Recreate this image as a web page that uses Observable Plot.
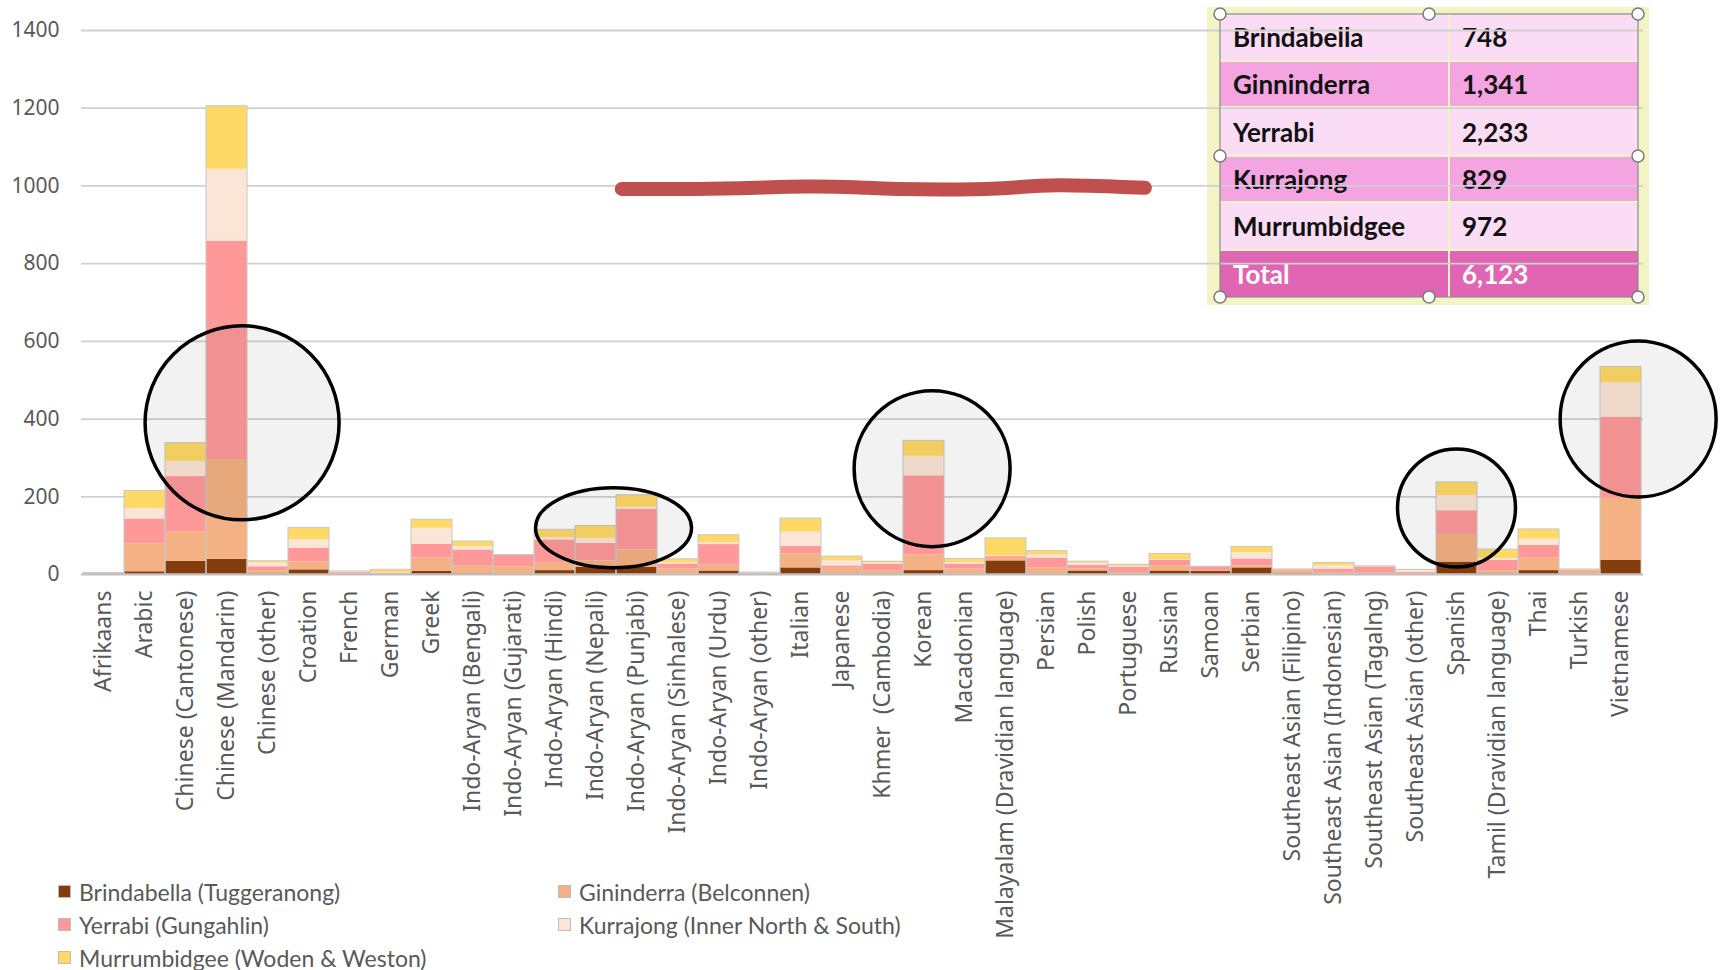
<!DOCTYPE html>
<html>
<head>
<meta charset="utf-8">
<script src="https://cdn.jsdelivr.net/npm/d3@7"></script>
<script src="https://cdn.jsdelivr.net/npm/@observablehq/plot@0.6"></script>
<style>
  body { margin: 0; background: #fff; }
  #wrap { position: relative; width: 1723px; height: 970px; overflow: hidden; background: #fff; }
  #chart { position: absolute; left: 0; top: 0; z-index: 1; }
  #chart g[aria-label^="x-axis"] text { font-size: 23px; }
  #tbl-bg { position: absolute; left: 1207px; top: 7px; width: 442px; height: 298px; background: #F3F4C6; z-index: 0; }
  #tbl { position: absolute; left: 1220px; top: 14px; width: 418px; height: 283px; z-index: 0;
         font-family: Lato, "Noto Sans", sans-serif; font-weight: 700; font-size: 26px; color: #111; }
  .row { position: absolute; left: 0; width: 418px; display: flex; }
  .cell { height: 100%; display: flex; align-items: center; box-sizing: border-box; }
  .c1 { width: 228px; padding-left: 13px; }
  .c2 { width: 188px; margin-left: 2px; padding-left: 12px; }
  #handles { position: absolute; left: 0; top: 0; width: 1723px; height: 970px; z-index: 3; pointer-events: none; }
  #legend { position: absolute; left: 0; top: 0; z-index: 2; font-family: Lato, "Noto Sans", sans-serif; font-size: 23px; color: #595959; }
  .item { position: absolute; display: flex; align-items: center; height: 33px; white-space: nowrap; }
  .sw { width: 13px; height: 13px; box-sizing: border-box; border: 1px solid #bdbdbd; margin-right: 8px; }
</style>
</head>
<body>
<div id="wrap">
  <div id="tbl-bg"></div>
  <div id="tbl"></div>
  <div id="chart"></div>
  <div id="legend"></div>
  <svg id="handles" width="1723" height="970"></svg>
</div>
<script>
// ---------------- data ----------------
const categories = [
  "Afrikaans", "Arabic", "Chinese (Cantonese)", "Chinese (Mandarin)", "Chinese (other)",
  "Croation", "French", "German", "Greek", "Indo-Aryan (Bengali)", "Indo-Aryan (Gujarati)",
  "Indo-Aryan (Hindi)", "Indo-Aryan (Nepali)", "Indo-Aryan (Punjabi)", "Indo-Aryan (Sinhalese)",
  "Indo-Aryan (Urdu)", "Indo-Aryan (other)", "Italian", "Japanese", "Khmer  (Cambodia)",
  "Korean", "Macadonian", "Malayalam (Dravidian language)", "Persian", "Polish", "Portuguese",
  "Russian", "Samoan", "Serbian", "Southeast Asian (Filipino)", "Southeast Asian (Indonesian)",
  "Southeast Asian (Tagalng)", "Southeast Asian (other)", "Spanish", "Tamil (Dravidian language)",
  "Thai", "Turkish", "Vietnamese"
];

const seriesNames = [
  "Brindabella (Tuggeranong)", "Gininderra (Belconnen)", "Yerrabi (Gungahlin)",
  "Kurrajong (Inner North & South)", "Murrumbidgee (Woden & Weston)"
];

const brindabella  = [0, 7, 34, 39, 2, 12, 0, 1, 8, 2, 1, 10, 19, 19, 1, 9, 0, 17, 1, 1, 10, 1, 35, 1, 9, 1, 9, 8, 17, 2, 1, 0, 0, 32, 2, 10, 1, 36];
const gininderra   = [2, 72, 76, 257, 8, 20, 3, 2, 35, 20, 18, 21, 16, 44, 13, 15, 1, 36, 15, 9, 40, 13, 6, 15, 5, 4, 13, 2, 5, 8, 4, 3, 2, 71, 8, 32, 10, 160];
const yerrabi      = [1, 64, 142, 562, 10, 35, 2, 1, 35, 41, 31, 58, 45, 105, 13, 53, 3, 19, 6, 16, 204, 13, 5, 26, 10, 14, 14, 10, 18, 2, 9, 16, 3, 61, 26, 33, 1, 209];
const kurrajong    = [1, 27, 39, 185, 10, 22, 2, 1, 41, 9, 0, 6, 13, 5, 3, 5, 1, 37, 13, 3, 50, 4, 2, 8, 5, 2, 2, 0, 16, 0, 8, 0, 5, 39, 5, 16, 1, 88];
const murrumbidgee = [0, 45, 47, 162, 4, 31, 1, 7, 22, 13, 0, 20, 32, 31, 9, 19, 0, 35, 11, 4, 40, 9, 45, 10, 4, 4, 15, 0, 15, 1, 8, 2, 2, 34, 23, 25, 0, 41];

const yTicks = [0, 200, 400, 600, 800, 1000, 1200, 1400];

// overlay table (as shown on the image)
const tableNames  = ["Brindabella", "Ginninderra", "Yerrabi", "Kurrajong", "Murrumbidgee", "Total"];
const tableValues = [748, 1341, 2233, 829, 972, 6123];

// hand-drawn annotations (anchored to categories/values)
const circleCats   = ["Chinese (Mandarin)", "Indo-Aryan (Nepali)", "Korean", "Spanish", "Vietnamese"];
const circleValues = [389, 119, 271, 170, 399];
const scribbleBand  = [13.14, 15.0, 16.5, 17.6, 18.9, 19.6, 22.0, 22.8, 23.6, 25.9];
const scribbleValue = [991, 990, 994, 998, 996, 990, 989, 995, 1003, 994];

// ---------------- styles / geometry ----------------
const seriesColors = ["#843C0C", "#F4B183", "#FF9999", "#FBE5D6", "#FFD966"];
const circleGeom = [
  {frac: 0.88, rx: 97, ry: 97},
  {frac: 0.94, rx: 78, ry: 40},
  {frac: 0.71, rx: 78, ry: 78},
  {frac: 0.50, rx: 59, ry: 59},
  {frac: 0.93, rx: 78, ry: 78}
];

// ---------------- build table for Plot ----------------
const seriesArrays = [brindabella, gininderra, yerrabi, kurrajong, murrumbidgee];
const rows = [];
categories.forEach((c, i) => {
  seriesNames.forEach((s, j) => rows.push({category: c, series: s, value: seriesArrays[j][i]}));
});
const totals = categories.map((c, i) => ({category: c, total: d3.sum(seriesArrays, a => a[i])}));

// custom render marks for annotations
function circlesMark(index, scales) {
  const sx = scales.x, sy = scales.y;
  const bw = sx(categories[1]) - sx(categories[0]);
  const g = d3.create("svg:g");
  circleCats.forEach((c, i) => {
    const geo = circleGeom[i];
    g.append("ellipse")
      .attr("cx", sx(c) + geo.frac * bw)
      .attr("cy", sy(circleValues[i]))
      .attr("rx", geo.rx)
      .attr("ry", geo.ry)
      .attr("fill", "#000")
      .attr("fill-opacity", 0.05)
      .attr("stroke", "#000")
      .attr("stroke-width", 3.5);
  });
  return g.node();
}
function scribbleMark(index, scales) {
  const sx = scales.x, sy = scales.y;
  const bw = sx(categories[1]) - sx(categories[0]);
  const x0 = sx(categories[0]);
  const pts = scribbleBand.map((b, i) => [x0 + b * bw, sy(scribbleValue[i])]);
  const g = d3.create("svg:g");
  g.append("path")
    .attr("d", d3.line().curve(d3.curveBasis)(pts))
    .attr("fill", "none")
    .attr("stroke", "#C0504D")
    .attr("stroke-width", 14)
    .attr("stroke-linecap", "round");
  return g.node();
}

const chart = Plot.plot({
  width: 1723,
  height: 970,
  marginLeft: 81,
  marginRight: 80,
  marginTop: 30,
  marginBottom: 396,
  style: {background: "transparent", fontFamily: "'Noto Sans', sans-serif", fontSize: "21px", color: "#595959"},
  x: {domain: categories, padding: 0, label: null, tickSize: 0, tickPadding: 16, tickRotate: -90},
  y: {domain: [0, 1400], ticks: yTicks, label: null, tickSize: 0, tickPadding: 22, tickFormat: d3.format("d")},
  color: {domain: seriesNames, range: seriesColors},
  marks: [
    Plot.ruleY(yTicks.slice(1), {stroke: "#d0d0d0", strokeWidth: 1.8}),
    Plot.barY(rows, {x: "category", y: "value", fill: "series", order: seriesNames}),
    Plot.barY(totals, {x: "category", y: "total", fill: "none", stroke: "#c8c8c8", strokeWidth: 1}),
    Plot.ruleY([0], {stroke: "#bfbfbf", strokeWidth: 1.8}),
    circlesMark,
    scribbleMark
  ]
});
document.getElementById("chart").appendChild(chart);

// ---------------- overlay table ----------------
const tbl = document.getElementById("tbl");
const rowTops = [0, 48, 94, 143, 189, 237];
const rowHeights = [46, 44, 47, 44, 46, 46];
const rowColors = ["#FADDF5", "#F4A5E1", "#FADDF5", "#F4A5E1", "#FADDF5", "#E066B4"];
const fmt = d3.format(",");
tableNames.forEach((n, i) => {
  const r = document.createElement("div");
  r.className = "row";
  r.style.top = rowTops[i] + "px";
  r.style.height = rowHeights[i] + "px";
  const last = i === tableNames.length - 1;
  r.innerHTML = `<div class="cell c1" style="background:${rowColors[i]};color:${last ? "#fff" : "#111"}">${n}</div>` +
                `<div class="cell c2" style="background:${rowColors[i]};color:${last ? "#fff" : "#111"}">${fmt(tableValues[i])}</div>`;
  tbl.appendChild(r);
});

// selection frame + handles
const hs = d3.select("#handles");
hs.append("rect").attr("x", 1220).attr("y", 14).attr("width", 418).attr("height", 283)
  .attr("fill", "none").attr("stroke", "#8a8a8a").attr("stroke-width", 1.2);
[[1220, 14], [1429, 14], [1638, 14], [1220, 156], [1638, 156], [1220, 297], [1429, 297], [1638, 297]].forEach(([x, y]) => {
  hs.append("circle").attr("cx", x).attr("cy", y).attr("r", 6)
    .attr("fill", "#fff").attr("stroke", "#7a7a7a").attr("stroke-width", 1.5);
});

// ---------------- legend ----------------
const legend = document.getElementById("legend");
const legendPos = [[58, 875], [558, 875], [58, 908], [558, 908], [58, 941]];
seriesNames.forEach((s, i) => {
  const it = document.createElement("div");
  it.className = "item";
  it.style.left = legendPos[i][0] + "px";
  it.style.top = legendPos[i][1] + "px";
  it.innerHTML = `<span class="sw" style="background:${seriesColors[i]}"></span><span>${s}</span>`;
  legend.appendChild(it);
});
</script>
</body>
</html>
